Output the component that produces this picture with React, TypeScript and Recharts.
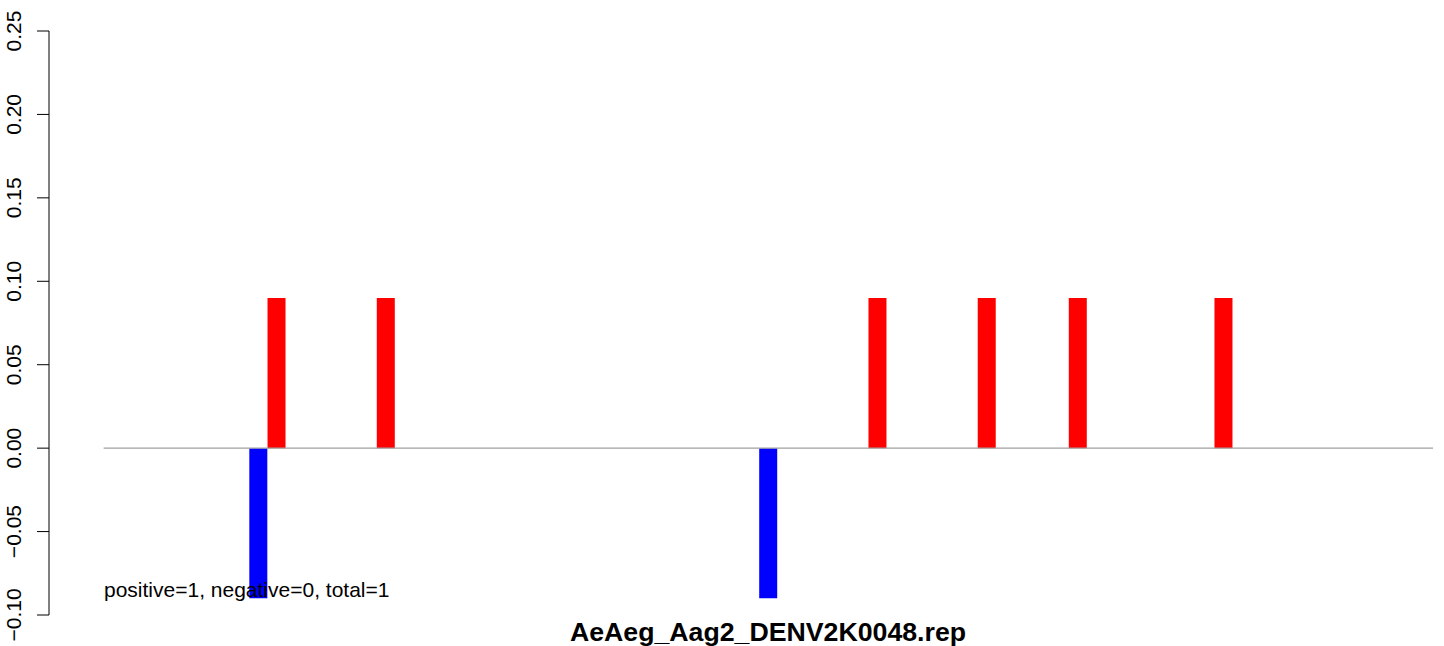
import React from 'react';
import { BarChart, Bar, XAxis, YAxis, Cell, ReferenceLine } from 'recharts';

// bin index along the read, and the signed fraction drawn in that bin
const binIndex = [8, 9, 15, 36, 42, 48, 53, 61];
const binValue = [-0.09, 0.09, 0.09, -0.09, 0.09, 0.09, 0.09, 0.09];
const binCount = 73;

const yTicks = [-0.1, -0.05, 0, 0.05, 0.1, 0.15, 0.2, 0.25];
const chartTitle = 'AeAeg_Aag2_DENV2K0048.rep';
const noteText = 'positive=1, negative=0, total=1';

const FONT = '"Liberation Sans", Arial, Helvetica, sans-serif';

const data = binIndex.map((b, i) => ({ pos: b + 0.5, value: binValue[i] }));

const fmt = (v: number) => {
  const s = Math.abs(v).toFixed(2);
  return v < 0 ? `\u2212${s}` : s;
};

function YTick(props: any) {
  const { x, y, payload } = props;
  return (
    <text
      x={x}
      y={y}
      transform={`rotate(-90 ${x} ${y})`}
      textAnchor="middle"
      fontSize={21}
      fontFamily={FONT}
      fill="#000"
    >
      {fmt(payload.value)}
    </text>
  );
}

export default function App() {
  return (
    <div
      style={{
        position: 'absolute',
        left: 0,
        top: 0,
        width: 1444,
        height: 646,
        background: '#fff',
        overflow: 'hidden',
      }}
    >
      <BarChart
        width={1444}
        height={646}
        data={data}
        margin={{ top: 31, right: 11, bottom: 31, left: 0 }}
        barGap={0}
        barCategoryGap={0}
      >
        <XAxis dataKey="pos" type="number" domain={[-3, binCount]} allowDataOverflow hide />
        <YAxis
          type="number"
          domain={[-0.1, 0.25]}
          ticks={yTicks}
          interval={0}
          width={49}
          tickSize={12}
          tickMargin={16}
          axisLine={{ stroke: '#000', strokeWidth: 1 }}
          tickLine={{ stroke: '#000', strokeWidth: 1 }}
          tick={<YTick />}
          allowDataOverflow
        />
        <ReferenceLine
          segment={[{ x: 0, y: 0 }, { x: binCount, y: 0 }]}
          stroke="#a0a0a0"
          strokeWidth={1.2}
        />
        <Bar dataKey="value" barSize={18} isAnimationActive={false}>
          {data.map((d, i) => (
            <Cell key={i} fill={d.value > 0 ? '#ff0000' : '#0000ff'} />
          ))}
        </Bar>
      </BarChart>
      <div
        style={{
          position: 'absolute',
          left: 104,
          top: 578,
          fontFamily: FONT,
          fontSize: 21,
          lineHeight: 1.15,
          color: '#000',
          whiteSpace: 'nowrap',
        }}
      >
        {noteText}
      </div>
      <div
        style={{
          position: 'absolute',
          left: 103,
          width: 1330,
          top: 617,
          textAlign: 'center',
          fontFamily: FONT,
          fontSize: 26.7,
          lineHeight: 1.15,
          fontWeight: 'bold',
          color: '#000',
          whiteSpace: 'nowrap',
        }}
      >
        {chartTitle}
      </div>
    </div>
  );
}
